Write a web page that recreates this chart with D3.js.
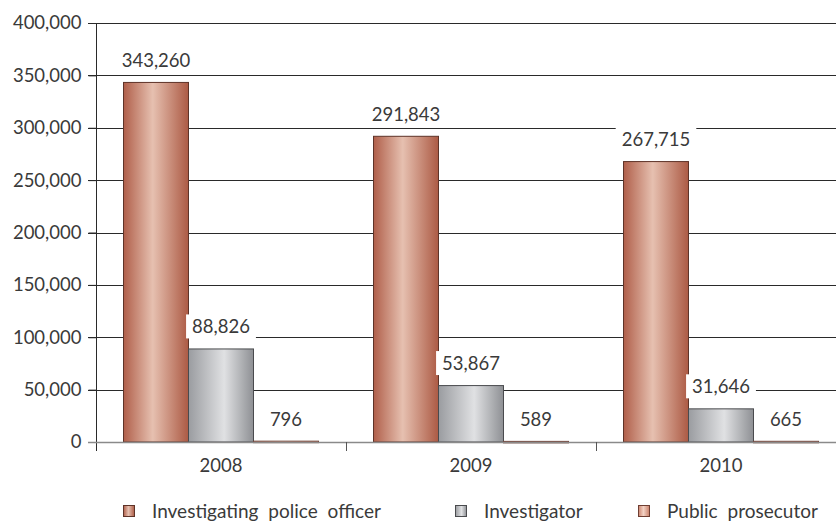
<!DOCTYPE html>
<html><head><meta charset="utf-8">
<script src="https://cdn.jsdelivr.net/npm/d3@7"></script>
<style>body{margin:0;background:#fff}svg{display:block}text{font-family:Lato,"Open Sans",sans-serif;fill:#3a3a3a}</style>
</head><body><svg id="c" width="836" height="524"></svg>
<script>
const years = ["2008","2009","2010"];
const seriesNames = ["Investigating police officer","Investigator","Public prosecutor"];
const police = [343260, 291843, 267715];
const investigator = [88826, 53867, 31646];
const prosecutor = [796, 589, 665];
const yTicks = [0,50000,100000,150000,200000,250000,300000,350000,400000];

const values = [police, investigator, prosecutor];
const svg = d3.select("#c");
const W=836,H=524;
const m={left:96};
const x0 = d3.scaleBand().domain(years).range([m.left, 846]).paddingInner(0).paddingOuter(0);
const x1 = d3.scaleBand().domain(seriesNames).range([27.5, 250-27.5]);
const y = d3.scaleLinear().domain([0,400000]).range([442,23]);
const fmt = d3.format(",");
const FS = "18.5px";

const defs = svg.append("defs");
const grads = [
  {id:"g0", stops:[["0%","#b05f4a"],["45%","#e6c0b0"],["100%","#ac5a44"]], stroke:"#5e3328"},
  {id:"g1", stops:[["0%","#9a9ca0"],["55%","#e0e1e3"],["100%","#8e9094"]], stroke:"#4a4b4e"},
  {id:"g2", stops:[["0%","#cc8570"],["45%","#f3d2c4"],["100%","#c87f69"]], stroke:"#6e3e32"}
];
grads.forEach(g=>{
  const lg=defs.append("linearGradient").attr("id",g.id).attr("x1","0").attr("x2","1").attr("y1","0").attr("y2","0");
  g.stops.forEach(s=>lg.append("stop").attr("offset",s[0]).attr("stop-color",s[1]));
});

// gridlines
svg.append("g").selectAll("line").data(yTicks.filter(d=>d>0)).join("line")
  .attr("x1",88).attr("x2",W).attr("y1",d=>Math.round(y(d))+0.5).attr("y2",d=>Math.round(y(d))+0.5)
  .attr("stroke","#2a2a2a").attr("stroke-width",1);

// y axis
const yAxis = d3.axisLeft(y).tickValues(yTicks).tickFormat(fmt).tickSize(8).tickPadding(7);
const ya = svg.append("g").attr("transform",`translate(${m.left+0.5},0)`).call(yAxis);
ya.select(".domain").remove();
ya.selectAll(".tick line").attr("stroke","#2a2a2a");
ya.selectAll("text").style("font-size",FS).attr("fill","#3a3a3a");
svg.append("line").attr("x1",m.left+0.5).attr("x2",m.left+0.5).attr("y1",23).attr("y2",451).attr("stroke","#2a2a2a");

// bars
const groups = svg.append("g").selectAll("g").data(years).join("g")
  .attr("transform",d=>`translate(${x0(d)},0)`);
groups.each(function(yr,i){
  const g=d3.select(this);
  seriesNames.forEach((s,j)=>{
    const v=values[j][i];
    g.append("rect").attr("x",x1(s)).attr("width",x1.bandwidth())
      .attr("y",y(v)).attr("height",Math.max(1.5,y(0)-y(v)))
      .attr("fill",`url(#g${j})`).attr("stroke",grads[j].stroke).attr("stroke-width",1);
  });
});

// baseline x axis
svg.append("line").attr("x1",88).attr("x2",W).attr("y1",442.5).attr("y2",442.5).attr("stroke","#8a8a8a").attr("stroke-width",1.5);
const xa = d3.axisBottom(x0).tickSize(0).tickPadding(17);
const xg = svg.append("g").attr("transform","translate(0,442)").call(xa);
xg.select(".domain").remove();
xg.selectAll("text").style("font-size",FS).attr("fill","#3a3a3a");
// group separators
svg.append("g").selectAll("line").data(years.slice(1)).join("line")
  .attr("x1",d=>x0(d)+0.5).attr("x2",d=>x0(d)+0.5).attr("y1",442).attr("y2",451).attr("stroke","#555");

// value labels with white backgrounds
const lab = svg.append("g");
years.forEach((yr,i)=>{
  seriesNames.forEach((s,j)=>{
    const v=values[j][i];
    const cx=x0(yr)+x1(s)+x1.bandwidth()/2;
    const cy=y(v)-22;
    const t=lab.append("text").attr("x",cx).attr("y",cy).attr("text-anchor","middle").attr("dy","0.35em")
      .style("font-size",FS).text(fmt(v));
    const bb=t.node().getBBox();
    lab.insert("rect","text").attr("x",bb.x-6).attr("y",bb.y-1).attr("width",bb.width+12).attr("height",bb.height+2).attr("fill","#fff");
  });
});
lab.selectAll("text").raise();

// legend
const legX=[123,455,638];
const lg = svg.append("g");
seriesNames.forEach((s,j)=>{
  lg.append("rect").attr("x",legX[j]+0.5).attr("y",505.5).attr("width",11).attr("height",11)
    .attr("fill",`url(#g${j})`).attr("stroke",grads[j].stroke);
  lg.append("text").attr("x",legX[j]+29).attr("y",511).attr("dy","0.35em").style("font-size","19px").style("word-spacing","5px").text(s);
});
</script></body></html>
